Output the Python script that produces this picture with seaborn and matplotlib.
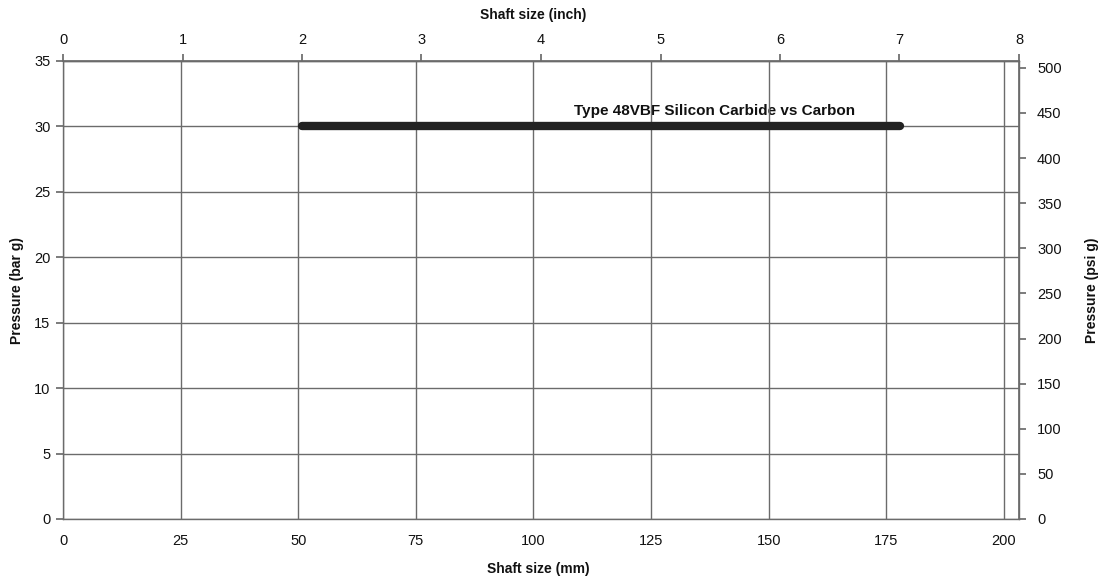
import numpy as np
import pandas as pd
import matplotlib
matplotlib.use("Agg")
import matplotlib.pyplot as plt
import seaborn as sns

# ---- data ----
series_name = ["Type 48VBF Silicon Carbide vs Carbon"]
shaft_mm = [50.8, 177.8]        # 2 in to 7 in
pressure_bar = [30, 30]
mm_ticks = [0, 25, 50, 75, 100, 125, 150, 175, 200]
inch_ticks = [0, 1, 2, 3, 4, 5, 6, 7, 8]
bar_ticks = [0, 5, 10, 15, 20, 25, 30, 35]
psi_ticks = [0, 50, 100, 150, 200, 250, 300, 350, 400, 450, 500]
MM_PER_INCH = 25.4
PSI_PER_BAR = 14.5038

df = pd.DataFrame({"mm": shaft_mm, "bar": pressure_bar,
                   "series": series_name * len(shaft_mm)})

sns.set_theme(style="white")
plt.rcParams["font.family"] = ["Liberation Sans", "DejaVu Sans"]

W, H = 1099, 579
fig = plt.figure(figsize=(W / 100, H / 100), dpi=100)
ax = fig.add_axes([63 / W, 1 - 519 / H, (1019 - 63) / W, (519 - 61) / H])

grid_c = "#6b6b6b"
txt_c = "#111111"
TICK_FS = 10.5
LAB_FS = 10
ax.set_xlim(0, 8 * MM_PER_INCH)
ax.set_ylim(0, 35)
ax.set_xticks(mm_ticks)
ax.set_yticks(bar_ticks)
ax.grid(True, color=grid_c, linewidth=1.0)
ax.set_axisbelow(True)

sns.lineplot(data=df, x="mm", y="bar", ax=ax, color="#222222",
             linewidth=6, legend=False, zorder=3)
for l in ax.lines:
    l.set_solid_capstyle("round")

ax.text(138.5, 31.2, series_name[0], ha="center", va="center",
        fontsize=11, fontweight="bold", color=txt_c, zorder=0.3)

for s in ax.spines.values():
    s.set_color(grid_c)
    s.set_linewidth(1.0)

ax.tick_params(axis="x", which="both", bottom=False, length=0, labelsize=TICK_FS,
               colors=txt_c, pad=11)
ax.tick_params(axis="y", left=True, length=5, color=grid_c, labelsize=TICK_FS,
               labelcolor=txt_c, pad=4)
ax.set_xlabel("")
ax.set_ylabel("")

# top axis: inches
axt = ax.secondary_xaxis("top", functions=(lambda x: x / MM_PER_INCH,
                                           lambda x: x * MM_PER_INCH))
axt.set_xticks(inch_ticks)
axt.tick_params(axis="x", length=5, color=grid_c, labelsize=TICK_FS,
                labelcolor=txt_c, pad=5)
axt.spines["top"].set_color(grid_c)

# right axis: psi
axr = ax.secondary_yaxis("right", functions=(lambda b: b * PSI_PER_BAR,
                                             lambda p: p / PSI_PER_BAR))
axr.set_yticks(psi_ticks)
axr.tick_params(axis="y", length=5, color=grid_c, labelsize=TICK_FS,
                labelcolor=txt_c, pad=8)
axr.spines["right"].set_color(grid_c)

lab = dict(fontsize=LAB_FS, fontweight="bold", color=txt_c, ha="center", va="center")
fig.text(533 / W, 1 - 15 / H, "Shaft size (inch)", **lab)
fig.text(538 / W, 1 - 569 / H, "Shaft size (mm)", **lab)
fig.text(17 / W, 1 - 290 / H, "Pressure (bar g)", rotation=90, **lab)
fig.text(1092 / W, 1 - 290 / H, "Pressure (psi g)", rotation=90, **lab)

fig.savefig("out.png", dpi=100)
